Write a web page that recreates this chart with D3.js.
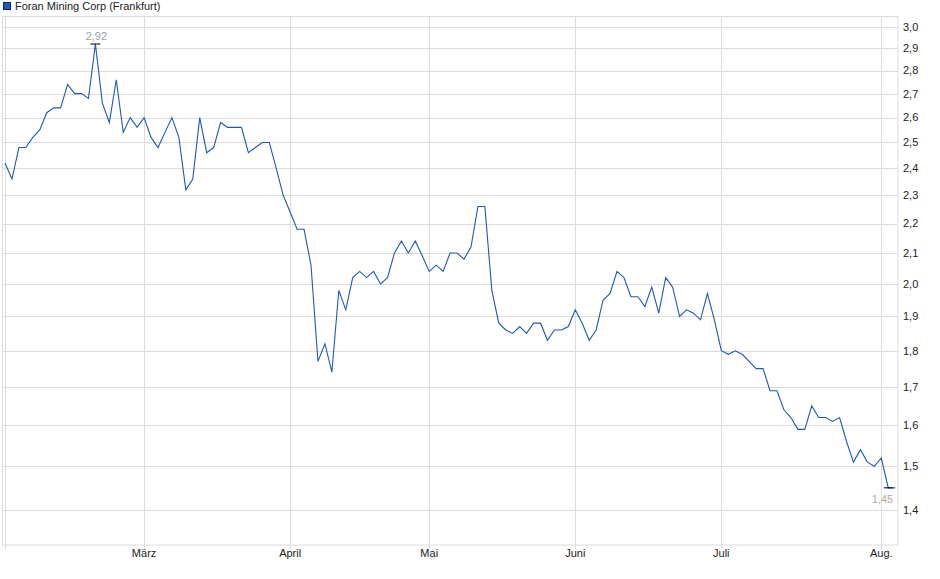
<!DOCTYPE html>
<html>
<head>
<meta charset="utf-8">
<script src="https://cdn.jsdelivr.net/npm/d3@7"></script>
<style>
  body { margin: 0; background: #fff; }
  svg { display: block; font-family: "Liberation Sans", Arial, sans-serif; }
</style>
</head>
<body>
<div id="chart"></div>
<script>
// closing prices, one per trading day (Feb 3 .. Aug 5)
var prices = [
  2.42, 2.36, 2.48, 2.48, 2.52, 2.55, 2.62, 2.64, 2.64, 2.74,
  2.70, 2.70, 2.68, 2.92, 2.66, 2.58, 2.76, 2.54, 2.60, 2.56,
  2.60, 2.52, 2.48, 2.54, 2.60, 2.52, 2.32, 2.36, 2.60, 2.46,
  2.48, 2.58, 2.56, 2.56, 2.56, 2.46, 2.48, 2.50, 2.50, 2.40,
  2.30, 2.24, 2.18, 2.18, 2.06, 1.77, 1.82, 1.74, 1.98, 1.92,
  2.02, 2.04, 2.02, 2.04, 2.00, 2.02, 2.10, 2.14, 2.10, 2.14,
  2.09, 2.04, 2.06, 2.04, 2.10, 2.10, 2.08, 2.12, 2.26, 2.26,
  1.98, 1.88, 1.86, 1.85, 1.87, 1.85, 1.88, 1.88, 1.83, 1.86,
  1.86, 1.87, 1.92, 1.88, 1.83, 1.86, 1.95, 1.97, 2.04, 2.02,
  1.96, 1.96, 1.93, 1.99, 1.91, 2.02, 1.99, 1.90, 1.92, 1.91,
  1.89, 1.97, 1.89, 1.80, 1.79, 1.80, 1.79, 1.77, 1.75, 1.75,
  1.69, 1.69, 1.64, 1.62, 1.59, 1.59, 1.65, 1.62, 1.62, 1.61,
  1.62, 1.56, 1.51, 1.54, 1.51, 1.50, 1.52, 1.45, 1.45
];

// index of first trading day of each month
var monthIdx = [0, 20, 41, 61, 82, 103, 126];
var monthLabels = ['', 'März', 'April', 'Mai', 'Juni', 'Juli', 'Aug.'];

var yTicks = [1.4, 1.5, 1.6, 1.7, 1.8, 1.9, 2.0, 2.1, 2.2, 2.3, 2.4, 2.5, 2.6, 2.7, 2.8, 2.9, 3.0];

var seriesName = 'Foran Mining Corp (Frankfurt)';

var width = 940, height = 579;
var plot = {left: 2.5, right: 898, top: 16.5, bottom: 545};

var svg = d3.select('#chart').append('svg')
    .attr('width', width)
    .attr('height', height);

var x = d3.scaleLinear().domain([0, prices.length - 1]).range([5, 895.2]);
var y = d3.scaleLog().domain([1.325, 3.047]).range([545, 17]);

var fmt = function(v) { return d3.format('.1f')(v).replace('.', ','); };
var fmt2 = function(v) { return d3.format('.2f')(v).replace('.', ','); };

var grid = '#dcdcdc';

// horizontal grid
svg.append('g').selectAll('line')
    .data(yTicks)
  .enter().append('line')
    .attr('x1', plot.left).attr('x2', plot.right)
    .attr('y1', function(d) { return Math.round(y(d)) + 0.5; })
    .attr('y2', function(d) { return Math.round(y(d)) + 0.5; })
    .style('stroke', grid);

// vertical month grid
svg.append('g').selectAll('line')
    .data(monthIdx)
  .enter().append('line')
    .attr('x1', function(d) { return Math.round(x(d)) + 0.5; })
    .attr('x2', function(d) { return Math.round(x(d)) + 0.5; })
    .attr('y1', plot.top).attr('y2', plot.bottom + 4)
    .style('stroke', grid);

// frame
svg.append('rect')
    .attr('x', plot.left).attr('y', plot.top)
    .attr('width', plot.right - plot.left)
    .attr('height', plot.bottom - plot.top)
    .style('fill', 'none')
    .style('stroke', grid);

// right axis labels
svg.append('g').selectAll('text')
    .data(yTicks)
  .enter().append('text')
    .attr('x', 903)
    .attr('y', function(d) { return y(d); })
    .attr('dy', '.35em')
    .style('font-size', '11px')
    .style('fill', '#222')
    .text(fmt);

// month labels
svg.append('g').selectAll('text')
    .data(monthIdx)
  .enter().append('text')
    .attr('x', function(d) { return x(d); })
    .attr('y', 557)
    .attr('text-anchor', 'middle')
    .style('font-size', '11px')
    .style('fill', '#222')
    .text(function(d, i) { return monthLabels[i]; });

// price line
var valueline = d3.line()
    .x(function(d, i) { return x(i); })
    .y(function(d) { return y(d); });

svg.append('path')
    .datum(prices)
    .attr('d', valueline)
    .style('fill', 'none')
    .style('stroke', '#1d58bd')
    .style('stroke-width', '1.1px');

// high / low markers
var hi = d3.maxIndex(prices), lo = d3.minIndex(prices);

svg.append('line')
    .attr('x1', x(hi) - 5).attr('x2', x(hi) + 5)
    .attr('y1', y(prices[hi])).attr('y2', y(prices[hi]))
    .style('stroke', '#000');
svg.append('text')
    .attr('x', x(hi) + 1)
    .attr('y', y(prices[hi]) - 4)
    .attr('text-anchor', 'middle')
    .style('font-size', '11px')
    .style('fill', '#9aa0a8')
    .text(fmt2(prices[hi]));

svg.append('line')
    .attr('x1', x(lo) - 4.5).attr('x2', x(lo) + 4.5)
    .attr('y1', y(prices[lo])).attr('y2', y(prices[lo]))
    .style('stroke', '#000');
svg.append('text')
    .attr('x', x(lo) + 5)
    .attr('y', y(prices[lo]) + 15)
    .attr('text-anchor', 'end')
    .style('font-size', '11px')
    .style('fill', '#b3aa9f')
    .text(fmt2(prices[lo]));

// legend
svg.append('rect')
    .attr('x', 3.5).attr('y', 2.5)
    .attr('width', 7).attr('height', 7)
    .style('fill', '#1d58bd')
    .style('stroke', '#0a2a66');
svg.append('text')
    .attr('x', 15)
    .attr('y', 6)
    .attr('dy', '.35em')
    .style('font-size', '11px')
    .style('fill', '#222')
    .text(seriesName);
</script>
</body>
</html>
